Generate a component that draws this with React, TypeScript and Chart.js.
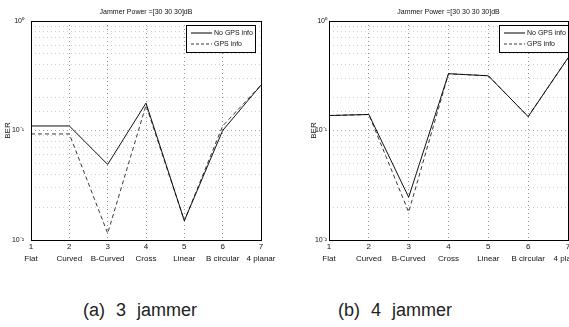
import React, { useEffect, useRef } from 'react';
import { Chart, registerables } from 'chart.js';

Chart.register(...registerables);

// ---- data ----
const categories = ['Flat', 'Curved', 'B-Curved', 'Cross', 'Linear', 'B circular', '4 planar'];
const positions = [1, 2, 3, 4, 5, 6, 7];
const leftNoGps = [0.11, 0.11, 0.049, 0.178, 0.015, 0.1, 0.26];
const leftGps = [0.093, 0.093, 0.0115, 0.17, 0.015, 0.11, 0.26];
const rightNoGps = [0.137, 0.14, 0.0246, 0.33, 0.316, 0.134, 0.46];
const rightGps = [0.137, 0.14, 0.018, 0.33, 0.316, 0.134, 0.46];
const decadeLabels = ['10⁻²', '10⁻¹', '10⁰'];
const seriesNames = ['No GPS info', 'GPS info'];
const leftTitle = 'Jammer Power =[30 30 30]dB';
const rightTitle = 'Jammer Power =[30 30 30 30]dB';

const FONT = '"Liberation Sans", Arial, sans-serif';

type PanelProps = {
  noGps: number[];
  gps: number[];
  title: string;
  padLeft: number;
  yWidth: number;
  padRight: number;
  tickPad: number;
  legendRightOffset: number;
};

function Panel(props: PanelProps) {
  const ref = useRef<HTMLCanvasElement | null>(null);
  useEffect(() => {
    const canvas = ref.current;
    if (!canvas) return;
    const { noGps, gps, title, padLeft, yWidth, padRight, tickPad, legendRightOffset } = props;

    const decorPlugin = {
      id: 'decor',
      afterDraw(chart: any) {
        const ctx = chart.ctx;
        const ca = chart.chartArea;
        ctx.save();
        // frame
        ctx.strokeStyle = '#000';
        ctx.lineWidth = 1;
        ctx.strokeRect(Math.round(ca.left) + 0.5, Math.round(ca.top) + 0.5, Math.round(ca.right - ca.left), Math.round(ca.bottom - ca.top));
        // title
        ctx.fillStyle = '#111';
        ctx.font = `7px ${FONT}`;
        ctx.textAlign = 'center';
        ctx.textBaseline = 'middle';
        ctx.fillText(title, (ca.left + ca.right) / 2, 12);
        // legend
        const bw = 69, bh = 27;
        const bx = ca.right - legendRightOffset - bw;
        const by = ca.top + 4;
        ctx.fillStyle = '#fff';
        ctx.fillRect(bx, by, bw, bh);
        ctx.strokeStyle = '#000';
        ctx.lineWidth = 1;
        ctx.strokeRect(Math.round(bx) + 0.5, Math.round(by) + 0.5, bw, bh);
        const rows = [by + 8, by + 19];
        ctx.textAlign = 'left';
        ctx.fillStyle = '#111';
        ctx.font = `7px ${FONT}`;
        rows.forEach((ry, i) => {
          ctx.beginPath();
          ctx.setLineDash(i === 0 ? [] : [3, 2]);
          ctx.lineWidth = i === 0 ? 1 : 0.8;
          ctx.moveTo(bx + 5, ry);
          ctx.lineTo(bx + 26, ry);
          ctx.stroke();
          ctx.setLineDash([]);
          ctx.fillText(seriesNames[i], bx + 28, ry);
        });
        ctx.restore();
      },
    };

    const chart = new Chart(canvas, {
      type: 'line',
      data: {
        datasets: [
          {
            label: seriesNames[0],
            data: positions.map((x, i) => ({ x, y: noGps[i] })),
            borderColor: '#111',
            borderWidth: 1,
            pointRadius: 0,
            tension: 0,
            fill: false,
          },
          {
            label: seriesNames[1],
            data: positions.map((x, i) => ({ x, y: gps[i] })),
            borderColor: '#222',
            borderWidth: 0.9,
            borderDash: [4, 3],
            pointRadius: 0,
            tension: 0,
            fill: false,
          },
        ],
      },
      options: {
        animation: false,
        responsive: false,
        maintainAspectRatio: false,
        events: [],
        layout: { padding: { left: padLeft, top: 21, right: padRight, bottom: 10 } },
        plugins: { legend: { display: false }, title: { display: false }, tooltip: { enabled: false } },
        scales: {
          x: {
            type: 'linear',
            min: 1,
            max: 7,
            border: { display: false, dash: [1, 3] },
            grid: {
              drawTicks: false,
              color: (c: any) => (c.tick && (c.tick.value === 1 || c.tick.value === 7) ? 'rgba(0,0,0,0)' : '#666'),
              lineWidth: 0.7,
            },
            ticks: {
              stepSize: 1,
              padding: 1,
              color: '#111',
              maxRotation: 0,
              autoSkip: false,
              font: { size: 8, family: FONT, lineHeight: 1.5 },
              callback: (v: any) => [String(v), categories[Number(v) - 1]],
            },
            afterFit: (s: any) => {
              s.height = 30;
              s.paddingLeft = 0;
              s.paddingRight = 0;
            },
          },
          y: {
            type: 'logarithmic',
            min: 0.01,
            max: 1,
            border: { display: false, dash: [1, 3] },
            grid: {
              drawTicks: false,
              color: (c: any) => {
                const v = c.tick ? c.tick.value : 0;
                if (Math.abs(v - 1) < 1e-9 || Math.abs(v - 0.01) < 1e-9) return 'rgba(0,0,0,0)';
                return c.tick && c.tick.major ? '#666' : '#aaa';
              },
              lineWidth: 0.6,
            },
            ticks: {
              padding: tickPad,
              color: '#111',
              autoSkip: false,
              font: { size: 7, family: FONT },
              callback: (v: any) => {
                const l = Math.log10(Number(v));
                if (Math.abs(l - Math.round(l)) < 1e-6) return decadeLabels[Math.round(l) + 2] ?? '';
                return '';
              },
            },
            title: {
              display: true,
              text: 'BER',
              color: '#111',
              padding: 0,
              font: { size: 8, family: FONT },
            },
            afterFit: (s: any) => {
              s.width = yWidth;
              s.paddingTop = 0;
              s.paddingBottom = 0;
            },
          },
        },
      },
      plugins: [decorPlugin],
    } as any);

    return () => chart.destroy();
  }, []);
  return <canvas ref={ref} width={285} height={280} style={{ width: 285, height: 280, display: 'block' }} />;
}

const captionStyle: React.CSSProperties = {
  position: 'absolute',
  top: 300,
  fontFamily: FONT,
  fontSize: 18,
  color: '#222',
  wordSpacing: 6,
  whiteSpace: 'nowrap',
};

export default function App() {
  return (
    <div style={{ position: 'fixed', left: 0, top: 0, width: 569, height: 327, background: '#fff', overflow: 'hidden' }}>
      <div style={{ position: 'absolute', left: 0, top: 0 }}>
        <Panel noGps={leftNoGps} gps={leftGps} title={leftTitle} padLeft={3} yWidth={28} padRight={24} tickPad={7} legendRightOffset={6} />
      </div>
      <div style={{ position: 'absolute', left: 285, top: 0 }}>
        <Panel noGps={rightNoGps} gps={rightGps} title={rightTitle} padLeft={24} yWidth={20} padRight={2} tickPad={2} legendRightOffset={0} />
      </div>
      <div style={{ ...captionStyle, left: 83 }}>(a) 3 jammer</div>
      <div style={{ ...captionStyle, left: 338 }}>(b) 4 jammer</div>
    </div>
  );
}
